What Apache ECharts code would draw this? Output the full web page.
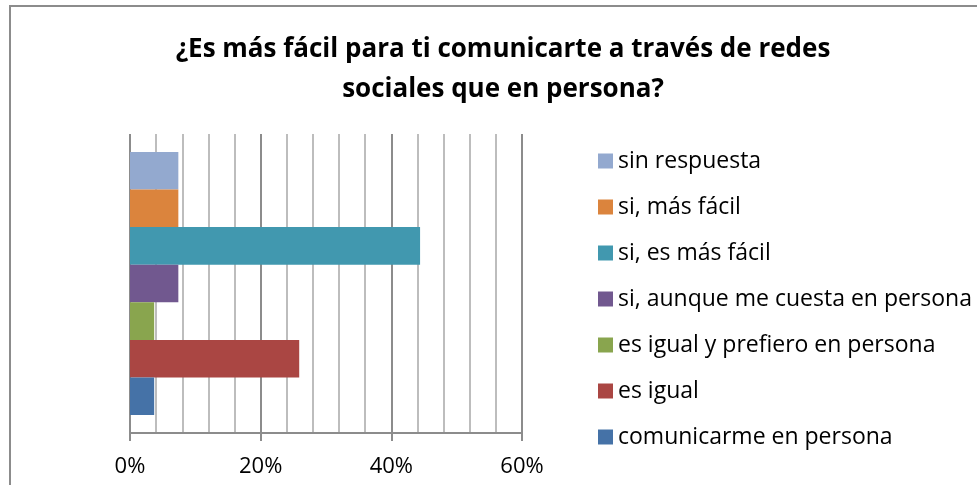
<!DOCTYPE html>
<html>
<head>
<meta charset="utf-8">
<script src="https://cdn.jsdelivr.net/npm/echarts@6/dist/echarts.min.js"></script>
<style>
  html, body { margin: 0; padding: 0; background: #fff; }
  #chart { width: 977px; height: 485px; }
</style>
</head>
<body>
<div id="chart"></div>
<script>
const titleText = "¿Es más fácil para ti comunicarte a través de redes\nsociales que en persona?";
const answers = [
  "comunicarme en persona",
  "es igual",
  "es igual y prefiero en persona",
  "si, aunque me cuesta en persona",
  "si, es más fácil",
  "si, más fácil",
  "sin respuesta"
];
const percents = [3.7, 25.9, 3.7, 7.4, 44.4, 7.4, 7.4];
const colors = ["#4572A7", "#AA4643", "#89A54E", "#71588F", "#4198AF", "#DB843D", "#93A9CF"];
const xTicks = [0, 20, 40, 60];

const font = "'Open Sans', sans-serif";
const chart = echarts.init(document.getElementById("chart"));

// echarts puts the first series of a horizontal group on top, Excel on the bottom
const series = answers.map((name, i) => ({
  name: name,
  type: "bar",
  data: [percents[i]],
  barGap: "0%",
  barCategoryGap: "12%",
  itemStyle: { color: colors[i] }
})).reverse();

chart.setOption({
  animation: false,
  title: {
    text: titleText,
    left: 498,
    top: 25,
    textAlign: "center",
    textStyle: {
      fontFamily: font,
      fontWeight: "bold",
      fontSize: 26,
      lineHeight: 40,
      color: "#000"
    }
  },
  legend: {
    orient: "vertical",
    left: 593,
    top: 144,
    itemWidth: 15,
    itemHeight: 15,
    itemGap: 22,
    icon: "rect",
    data: answers.slice().reverse(),
    textStyle: { fontFamily: font, fontSize: 23, color: "#000", lineHeight: 24 }
  },
  grid: { left: 130, right: 455, top: 134, bottom: 52 },
  xAxis: {
    type: "value",
    min: xTicks[0],
    max: xTicks[xTicks.length - 1],
    interval: 20,
    axisLine: { show: true, lineStyle: { color: "#8c8c8c", width: 2 } },
    axisTick: { show: true, length: 8, lineStyle: { color: "#8c8c8c", width: 2 } },
    axisLabel: {
      formatter: "{value}%",
      fontFamily: font,
      fontSize: 22,
      color: "#000",
      margin: 23
    },
    splitLine: { show: true, lineStyle: { color: "#8c8c8c", width: 2 } },
    minorTick: { show: true, splitNumber: 5, length: 0 },
    minorSplitLine: { show: true, lineStyle: { color: "#bdbdbd", width: 2 } }
  },
  yAxis: {
    type: "category",
    data: [""],
    axisLine: { show: false },
    axisTick: { show: false },
    axisLabel: { show: false }
  },
  graphic: [{
    type: "rect",
    shape: { x: 10, y: 6, width: 1000, height: 500 },
    style: { fill: null, stroke: "#8c8c8c", lineWidth: 2 },
    silent: true
  }],
  series: series
});
</script>
</body>
</html>
